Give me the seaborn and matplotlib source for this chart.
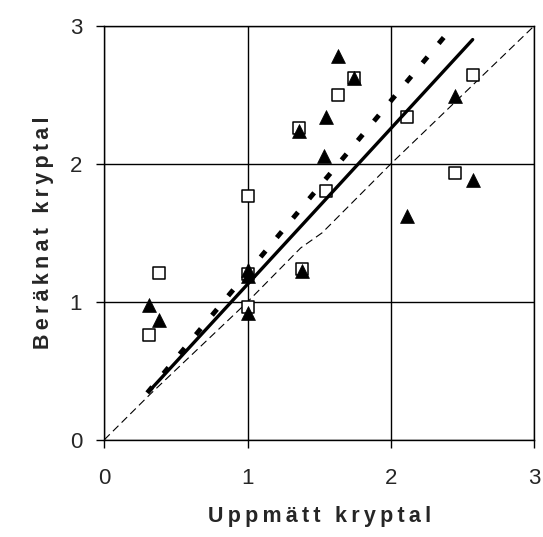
import numpy as np
import pandas as pd
import matplotlib
matplotlib.use("Agg")
import matplotlib.pyplot as plt
import seaborn as sns

# measured (x) vs calculated (y) creep numbers
sq_x = [0.31, 0.38, 1.00, 1.00, 1.00, 1.38, 1.36, 1.55, 1.63, 1.745, 2.11, 2.445, 2.57]
sq_y = [0.76, 1.21, 0.96, 1.20, 1.77, 1.24, 2.26, 1.80, 2.50, 2.62, 2.34, 1.935, 2.64]
tri_x = [0.31, 0.38, 1.00, 1.00, 1.00, 1.38, 1.36, 1.535, 1.55, 1.63, 1.745, 2.11, 2.445, 2.57]
tri_y = [0.98, 0.87, 0.92, 1.19, 1.23, 1.22, 2.24, 2.06, 2.34, 2.78, 2.62, 1.62, 2.49, 1.88]

# trend lines
solid_x = [0.32, 2.57]
solid_y = [0.36, 2.90]
dot_x = [0.30, 2.38]
dot_y = [0.34, 2.93]
ref_x = [0.0, 0.32, 1.0, 1.37, 1.52, 2.0, 3.0]
ref_y = [0.0, 0.33, 1.0, 1.39, 1.50, 2.0, 3.0]

ticks = [0, 1, 2, 3]
xlab = 'Uppmätt kryptal'
ylab = 'Beräknat kryptal'


def spaced(s):
    # wide letter spacing like the original
    return '\u2009'.join(s)


sns.set_style("white")
plt.rcParams['font.family'] = ['Liberation Sans', 'DejaVu Sans']

fig = plt.figure(figsize=(5.43, 5.37), dpi=100)
ax = fig.add_axes([0.192, 0.181, 0.792, 0.771])

sns.lineplot(x=ref_x, y=ref_y, ax=ax, color='black', lw=0.8, sort=False,
             estimator=None, zorder=2).lines[-1].set_dashes((7, 4))
sns.scatterplot(x=sq_x, y=sq_y, ax=ax, marker='s', s=70, facecolor='white',
                edgecolor='black', linewidth=1.1, zorder=3)
sns.lineplot(x=solid_x, y=solid_y, ax=ax, color='black', lw=2.4, sort=False,
             estimator=None, zorder=4)
l2 = sns.lineplot(x=dot_x, y=dot_y, ax=ax, color='black', lw=3.5, sort=False,
                  estimator=None, zorder=4).lines[-1]
l2.set_dashes((1.6, 3.6))
l2.set_dash_capstyle('butt')
sns.scatterplot(x=tri_x, y=tri_y, ax=ax, marker='^', s=100, color='black',
                edgecolor='black', linewidth=0.5, zorder=5)

ax.set_xlim(0, 3)
ax.set_ylim(0, 3)
ax.set_xticks(ticks)
ax.set_yticks(ticks)
ax.grid(True, color='black', lw=1.0)
ax.set_axisbelow(True)
for sp in ax.spines.values():
    sp.set_color('black')
    sp.set_linewidth(1.0)
ax.tick_params(direction='out', length=6, width=1.0, color='black',
               labelsize=16, pad=10, bottom=True, left=True)
ax.tick_params(axis='x', pad=14)

ax.set_xlabel(spaced(xlab), fontsize=15.5, fontweight='bold')
ax.set_ylabel(spaced(ylab), fontsize=15.5, fontweight='bold')
ax.xaxis.set_label_coords(0.5, -0.16)
ax.yaxis.set_label_coords(-0.118, 0.5)

fig.savefig('out.png', dpi=100)
